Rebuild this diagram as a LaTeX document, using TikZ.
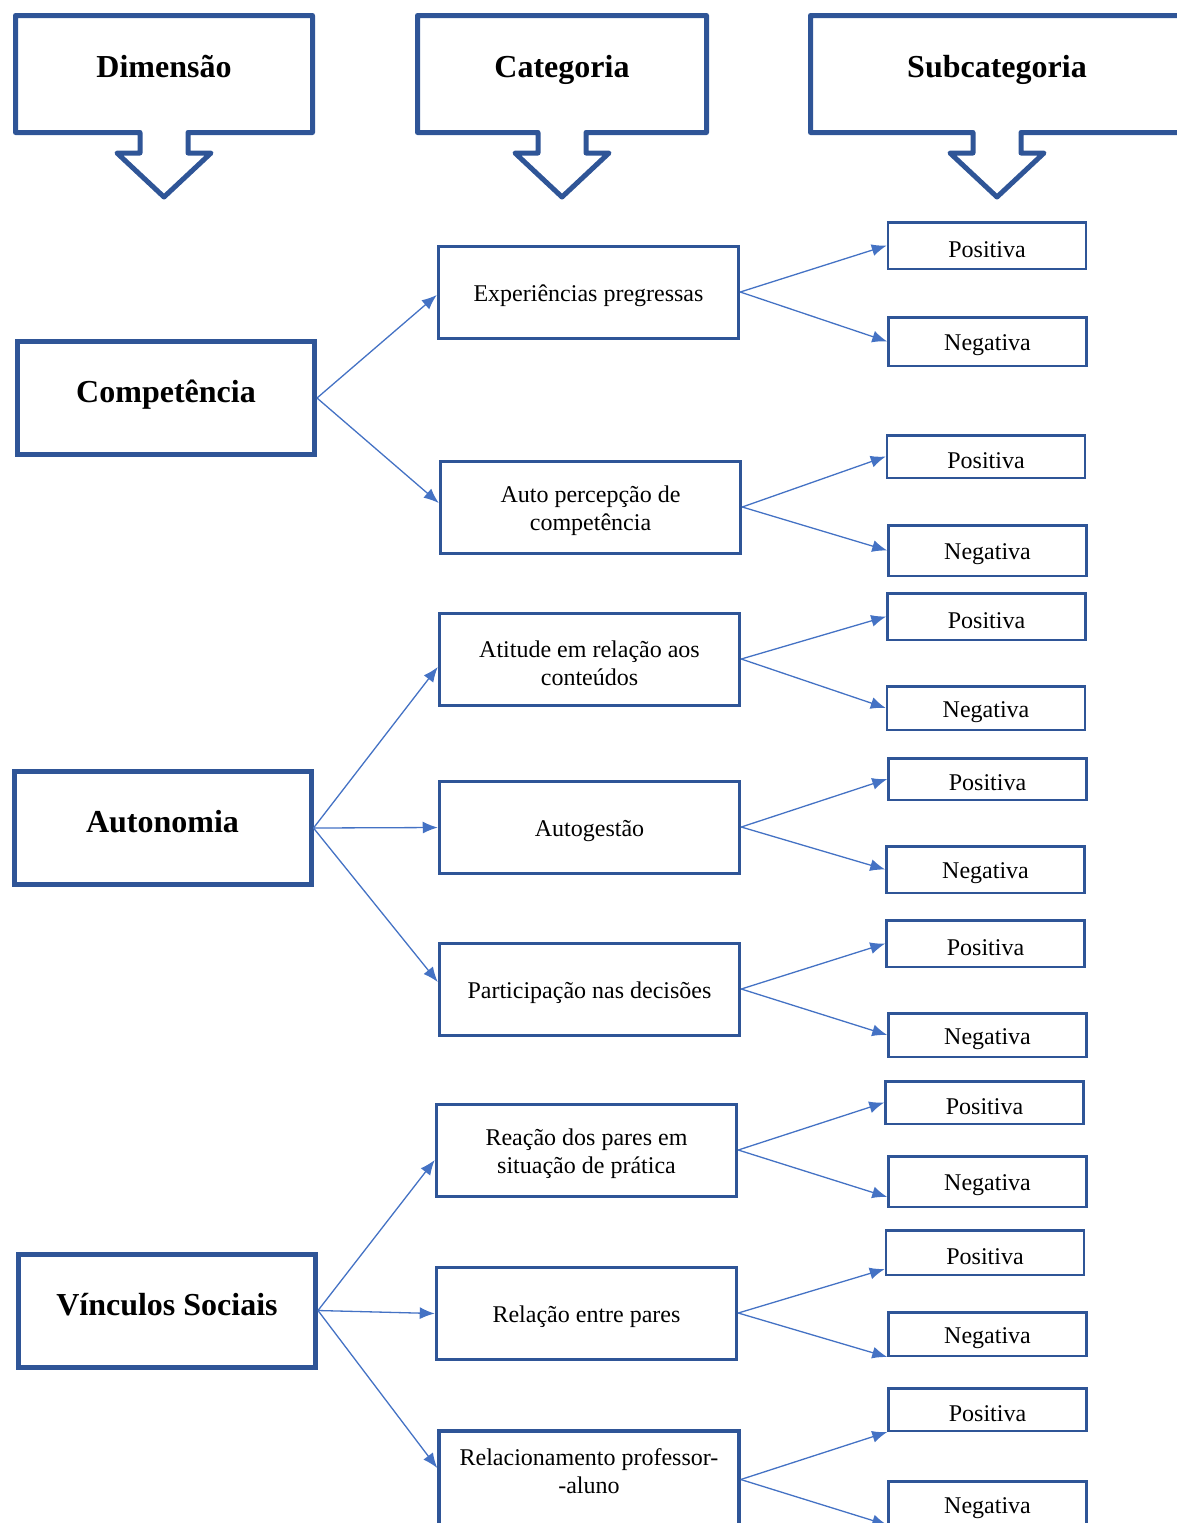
\documentclass[tikz,border=0pt]{standalone}
\usepackage{fontspec}
\setmainfont{Liberation Serif}
\usetikzlibrary{arrows.meta}

\definecolor{boxblue}{RGB}{47,85,151}
\definecolor{linkblue}{RGB}{68,114,196}

\newcommand{\upstrut}{\rule{0pt}{12pt}}

\tikzset{
  callout/.style={draw=boxblue, line width=2.5pt, line join=round},
  headtext/.style={font=\fontsize{16}{19}\selectfont\bfseries, anchor=base},
  dimbox/.style={draw=boxblue, line width=2.5pt, minimum width=148.5pt, minimum height=56.5pt,
    font=\fontsize{16}{19}\selectfont\bfseries, text height=12pt, text depth=7.5pt},
  catbox/.style={draw=boxblue, line width=1.75pt, minimum width=150pt, minimum height=46pt,
    align=center, font=\fontsize{12}{14}\selectfont, execute at begin node={\rule{0pt}{12pt}}},
  subbox/.style={draw=boxblue, line width=1.25pt, minimum width=99pt,
    font=\fontsize{12}{14}\selectfont, execute at begin node={\rule{0pt}{12pt}}},
  link/.style={draw=linkblue, line width=0.65pt, -{Latex[length=7.5pt,width=6pt]}},
}

\begin{document}
\begin{tikzpicture}[x=0.5pt, y=-0.5pt]
\useasboundingbox (0,0) rectangle (1177,1523);
\clip (0,0) rectangle (1177,1523);

% headers with down arrows
\foreach \cx/\xl/\xr/\name/\txt in {164/15.5/312.5/hdim/Dimensão, 562/417.5/706.5/hcat/Categoria, 997/810.5/1185/hsub/Subcategoria}{
  \draw[callout] (\xl,15.5) -- (\xr,15.5) -- (\xr,132.5) -- ({\cx+24},132.5) -- ({\cx+24},153)
    -- ({\cx+47},153) -- (\cx,197) -- ({\cx-47},153) -- ({\cx-24},153) -- ({\cx-24},132.5)
    -- (\xl,132.5) -- cycle;
  \node[headtext] (\name) at (\cx,77) {\txt};
}

% dimensions
\node[dimbox] (comp) at (166,398) {Competência};
\node[dimbox] (auto) at (162.5,828) {Autonomia};
\node[dimbox] (vinc) at (167,1310.5) {Vínculos Sociais};

% categories
\node[catbox] (c1) at (588.5,292.5) {Experiências pregressas};
\node[catbox] (c2) at (590.5,507.5) {\upstrut Auto percepção de\\competência};
\node[catbox] (c3) at (589.5,659.5) {\upstrut Atitude em relação aos\\conteúdos};
\node[catbox] (c4) at (589.5,827.5) {Autogestão};
\node[catbox] (c5) at (589.5,989.5) {Participação nas decisões};
\node[catbox] (c6) at (586.5,1150.5) {\upstrut Reação dos pares em\\situação de prática};
\node[catbox] (c7) at (586.5,1313.5) {Relação entre pares};
\node[catbox, minimum height=49.25pt] (c8) at (589,1480) {Relacionamento professor-\\-aluno\rule[-9pt]{0pt}{0pt}};

\draw[link] (comp.east) -- ([yshift=-1.25pt]c1.west);
\draw[link] (comp.east) -- ([yshift=2.25pt]c2.west);
\draw[link] (auto.east) -- ([yshift=-3.75pt]c3.west);
\draw[link] (auto.east) -- (c4.west);
\draw[link] (auto.east) -- ([yshift=3.75pt]c5.west);
\draw[link] (vinc.east) -- ([yshift=-4.75pt]c6.west);
\draw[link] (vinc.east) -- (c7.west);
\draw[link] (vinc.east) -- ([yshift=6pt]c8.west);

% subcategories
\foreach \c/\px/\py/\ph/\pa/\nx/\ny/\nh/\na in {
    1/987/245.5/49/0pt/987.5/341.5/51/0pt,
    2/986/456.5/45/0pt/987.5/550.5/53/0pt,
    3/986.5/616.5/49/0pt/986/708/46/0pt,
    4/987.5/779/44/0pt/985.5/869.5/49/0pt,
    5/985.5/943.5/49/0pt/987.5/1035/46/0pt,
    6/984.5/1102.5/45/0pt/987.5/1181.5/53/-7.75pt,
    7/985/1252.5/47/-8.25pt/987.5/1334/46/-11.5pt,
    8/987.5/1409.5/45/-11.25pt/987.5/1504/48/-10.5pt}{
  \node[subbox, minimum height={(\ph-2.5)*0.5pt}] (pos\c) at (\px,\py) {Positiva};
  \node[subbox, minimum height={(\nh-2.5)*0.5pt}] (neg\c) at (\nx,\ny) {Negativa};
  \draw[link] ([yshift=0.25pt]c\c.east) -- ([yshift=\pa]pos\c.west);
  \draw[link] ([yshift=0.25pt]c\c.east) -- ([yshift=\na]neg\c.west);
}
\end{tikzpicture}
\end{document}
